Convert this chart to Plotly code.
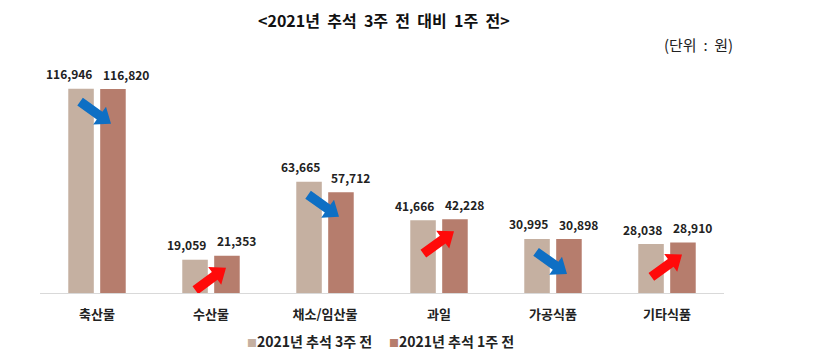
import numpy as np
import plotly.graph_objects as go

categories = ["축산물", "수산물", "채소/임산물", "과일", "가공식품", "기타식품"]
week3 = [116946, 19059, 63665, 41666, 30995, 28038]
week1 = [116820, 21353, 57712, 42228, 30898, 28910]
series_names = ["2021년 추석 3주 전", "2021년 추석 1주 전"]
title_text = "<2021년  추석  3주  전  대비  1주  전>"
unit_text = "(단위  :  원)"

FONT = "Noto Sans CJK KR"
C1 = "#C5B0A1"
C2 = "#B67D6D"
BLUE = "#0E6FC4"
RED = "#FF0A0A"
colors = [C1, C2]

fig = go.Figure()
for name, vals, col in zip(series_names, [week3, week1], colors):
    fig.add_trace(go.Bar(
        x=categories, y=vals, name=name, marker=dict(color=col, line=dict(width=0)),
        hoverinfo="x+y+name",
    ))

# value labels, spread outward from each bar pair
for cat, a, b in zip(categories, week3, week1):
    for v, sh, anc in [(a, -3, "right"), (b, 4, "left")]:
        fig.add_annotation(x=cat, y=v, xref="x", yref="y", xshift=sh, yshift=15,
                           text=f"{v:,}", showarrow=False, xanchor=anc, yanchor="middle",
                           font=dict(family=FONT, size=12, color="#222222", weight="bold"))


def block_arrow(dx, dy, xoff, yoff, length=38, shaft=4.8, head=11, headlen=14):
    """block arrow polygon in pixel offsets, tip at (xoff, yoff), pointing along (dx, dy)"""
    u = np.array([dx, dy], float)
    u /= np.linalg.norm(u)
    n = np.array([-u[1], u[0]])
    tip = np.array([xoff, yoff], float)
    base = tip - u * headlen
    tail = tip - u * length
    pts = [tip, base + n * head, base + n * shaft, tail + n * shaft,
           tail - n * shaft, base - n * shaft, base - n * head]
    return "M " + " L ".join(f"{p[0]:.2f},{p[1]:.2f}" for p in pts) + " Z"


for i, (a, b) in enumerate(zip(week3, week1)):
    if b < a:
        path = block_arrow(28, -20, 14, -35)
        ya, col = a, BLUE
    else:
        path = block_arrow(30, 22, 15, -12)
        ya, col = b, RED
    fig.add_shape(type="path", xref="x", yref="y", xsizemode="pixel", ysizemode="pixel",
                  xanchor=i, yanchor=ya, path=path,
                  fillcolor=col, line=dict(width=0), layer="above")

# legend (square marker hugging the text, as in the original)
for name, col, lx in zip(series_names, colors, [0.2997, 0.5073]):
    fig.add_annotation(
        text=f"<span style='color:{col};font-size:10px'>■</span>{name}",
        xref="paper", yref="paper", x=lx, y=0, yshift=-48,
        xanchor="left", yanchor="middle", showarrow=False,
        font=dict(family=FONT, size=14, color="#222222", weight="bold"))

fig.add_annotation(text=title_text, xref="paper", yref="paper", x=0.5, y=1.0,
                   xanchor="center", yanchor="middle", showarrow=False,
                   font=dict(family=FONT, size=16, color="#111111", weight="bold"),
                   yshift=46, xshift=2)
fig.add_annotation(text=unit_text, xref="paper", yref="paper", x=1.0, y=1.0,
                   xanchor="right", yanchor="middle", showarrow=False,
                   font=dict(family=FONT, size=15, color="#222222"),
                   yshift=22, xshift=11)

fig.update_layout(
    width=805, height=347,
    margin=dict(l=32, r=89, t=58, b=62),
    paper_bgcolor="white", plot_bgcolor="white",
    barmode="group", bargap=0.44, bargroupgap=0.2,
    font=dict(family=FONT, color="#222222"),
    showlegend=False,
    xaxis=dict(showline=True, linecolor="#D9D9D9", linewidth=1, ticks="",
               tickfont=dict(family=FONT, size=13, color="#222222", weight="bold"),
               ticklabelstandoff=9, showgrid=False),
    yaxis=dict(range=[0, 130000], visible=False, showgrid=False, zeroline=False),
)

fig.write_html("out.html")
